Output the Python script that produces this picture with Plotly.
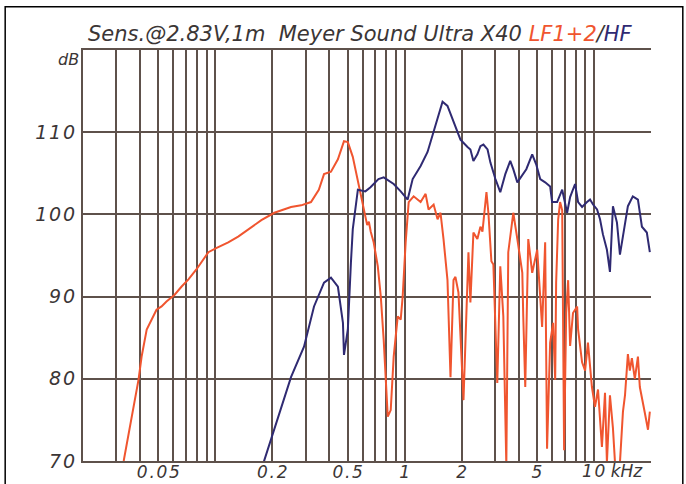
import plotly.graph_objects as go

# ---- data (frequency in Hz, level in dB SPL) ----
lf_freq = [32.8, 36.1, 39.3, 40.8, 43.4, 48.9, 52, 55.2, 60.8, 66.2, 72.1, 79.4, 91.9, 101, 117, 132, 149, 175,
           205, 251, 284, 320, 352, 375, 408, 444, 478, 501, 532, 587, 620, 634, 647, 662, 686, 721, 748, 775,
           814, 844, 875, 919, 953, 976, 1012, 1050, 1115, 1214, 1290, 1337, 1422, 1492, 1546, 1604, 1683, 1746,
           1811, 1854, 1923, 2045, 2172, 2224, 2307, 2421, 2512, 2575, 2704, 2768, 2871, 2941, 3084, 3199, 3319,
           3443, 3525, 3747, 3936, 4181, 4230, 4334, 4496, 4716, 5012, 5321, 5521, 5650, 5866, 6081, 6237, 6310,
           6468, 6622, 6792, 6950, 7130, 7300, 7479, 7745, 8147, 8241, 8650, 8974, 9290, 9750, 10120, 10500,
           11010, 11430, 11700, 12140, 12590, 12910, 13710, 14220, 14580, 15100, 15460, 15850, 16430, 17060,
           17460, 17910, 18540, 19280, 19720]
lf_db = [70, 75.2, 79.9, 82.7, 86, 88.4, 88.8, 89.4, 90.2, 91.2, 92.1, 93.3, 95.4, 95.9, 96.6, 97.3, 98.2, 99.3,
         100.2, 100.9, 101.1, 101.5, 103, 104.9, 105.2, 106.7, 108.9, 108.8, 107, 102.4, 99.6, 98.7, 99.1, 97.9,
         96.6, 93.7, 90, 84.7, 75.4, 76.2, 82.7, 87.6, 87.2, 90, 96.6, 101.5, 102.2, 101.5, 102.5, 100.6, 101.2,
         99.4, 100.2, 97, 92, 80.2, 92, 92.4, 90.5, 77.4, 95.4, 89.3, 97.8, 97, 98.5, 97.9, 102.7, 100.2, 94.3,
         93.9, 79.5, 93.7, 87.6, 69.5, 95.4, 100.2, 97, 92.9, 87.6, 79, 97, 92.9, 95.7, 86.3, 96.6, 71.5, 84.4,
         86.8, 79.9, 91.7, 99.4, 101.5, 100.5, 71.3, 88, 92, 84, 88, 88.8, 86, 82, 81, 84.4, 79, 76.6, 78.7,
         71.7, 78.3, 69.8, 78, 74, 69.8, 69.8, 76, 78, 83, 81, 82.5, 80, 82.7, 79, 77.8, 75.9, 73.8, 76]

hf_freq = [178, 197, 222, 251, 294, 332, 375, 408, 444, 472, 478, 501, 520, 532, 566, 620, 660, 727, 775, 875,
           953, 1037, 1102, 1214, 1321, 1456, 1585, 1683, 1811, 1971, 2147, 2224, 2307, 2421, 2512, 2606, 2740,
           2837, 3015, 3199, 3400, 3611, 3747, 3936, 4390, 4716, 4950, 5199, 5521, 5866, 6008, 6386, 6792, 7211,
           7479, 7943, 8241, 8650, 9183, 9528, 9886, 10380, 10760, 11140, 11700, 12140, 12590, 13220, 13710,
           14220, 15100, 16030, 17060, 17910, 19010, 19720]
hf_db = [69.5, 72.6, 76.2, 80.2, 83.9, 88.8, 91.7, 92.3, 91.2, 86.8, 82.9, 86, 94.1, 98.2, 103, 102.8, 103.3,
         104.3, 104.5, 103.7, 102.8, 101.8, 104.3, 105.9, 107.6, 110.8, 113.7, 113.2, 111.2, 109.1, 108.2, 107.9,
         106.5, 107.3, 108.3, 108.5, 107.9, 106.3, 104.3, 102.7, 104.9, 106.5, 105.5, 103.9, 105.5, 107.3, 106.1,
         104.3, 103.9, 103.4, 101.5, 101.5, 103, 100.2, 102.1, 103.7, 101.5, 100.9, 101.5, 101.8, 101.2, 100.6,
         99.4, 97.6, 95.7, 93, 101, 99, 95.1, 97.3, 101, 102.2, 101.8, 98.5, 97.8, 95.4]

grid_freqs = [30, 40, 50, 60, 70, 80, 90, 100, 200, 300, 400, 500, 600, 700, 800, 900,
              1000, 2000, 3000, 4000, 5000, 6000, 7000, 8000, 9000, 10000]
x_labels = {50: "0.05", 200: "0.2", 500: "0.5", 1000: "1", 2000: "2", 5000: "5"}
last_label = "10 kHz"
y_ticks = [70, 80, 90, 100, 110]

LF_COLOR = "#f0552f"
HF_COLOR = "#2f2a72"
GRID = "#5e514b"
TXT = "#3b3636"
FONT = "DejaVu Sans"
SP = "\u200a"  # hair space to mimic the wide letter spacing of the original


def spaced(s):
    return SP.join(s)


fig = go.Figure()
fig.add_trace(go.Scatter(x=lf_freq, y=lf_db, mode="lines", line=dict(color=LF_COLOR, width=2), name="LF1+2"))
fig.add_trace(go.Scatter(x=hf_freq, y=hf_db, mode="lines", line=dict(color=HF_COLOR, width=2), name="HF"))

fig.update_layout(
    width=686, height=484,
    margin=dict(l=83, r=35, t=50, b=23),
    paper_bgcolor="white", plot_bgcolor="white",
    showlegend=False,
    xaxis=dict(type="log", range=[1.30103, 4.30103], automargin=False,
               tickvals=grid_freqs, ticktext=[spaced(x_labels.get(f, "")) for f in grid_freqs],
               showgrid=True, gridcolor=GRID, gridwidth=2,
               showline=True, linecolor=GRID, linewidth=2, mirror=True,
               ticks="", zeroline=False, ticklabelstandoff=-5,
               tickfont=dict(family=FONT, size=17, color=TXT, style="italic")),
    yaxis=dict(range=[70, 120], automargin=False, tickvals=y_ticks, ticktext=[spaced(str(v)) for v in y_ticks],
               showgrid=True, gridcolor=GRID, gridwidth=2,
               showline=True, linecolor=GRID, linewidth=2, mirror=False,
               ticks="", zeroline=False, ticklabelstandoff=2,
               tickfont=dict(family=FONT, size=19, color=TXT, style="italic")),
)

fig.add_annotation(
    text="Sens.@2.83V,1m&nbsp;&nbsp;Meyer Sound Ultra X40 <span style='color:%s'>LF1+2</span>/<span style='color:%s'>HF</span>" % (LF_COLOR, HF_COLOR),
    xref="paper", yref="paper", x=0.488, y=1.039, xanchor="center", yanchor="middle",
    showarrow=False, font=dict(family=FONT, size=21, color=TXT, style="italic"))
fig.add_annotation(text="dB", xref="paper", yref="paper", x=-0.003, y=0.976, xanchor="right", yanchor="middle",
                   showarrow=False, font=dict(family=FONT, size=16, color=TXT, style="italic"))
fig.add_annotation(text=spaced("10") + " kHz", xref="x", yref="paper", x=4.0, y=0, xanchor="left", yanchor="top",
                   xshift=-14, yshift=2, showarrow=False,
                   font=dict(family=FONT, size=17, color=TXT, style="italic"))

fig.add_shape(type="rect", xref="paper", yref="paper", x0=-0.137, x1=1.056, y0=-0.1, y1=1.105,
              line=dict(color="black", width=1.5), layer="below")

fig.write_html("out.html", config={"displayModeBar": False},
               post_script="document.body.style.margin='0';document.body.style.overflow='hidden';")
